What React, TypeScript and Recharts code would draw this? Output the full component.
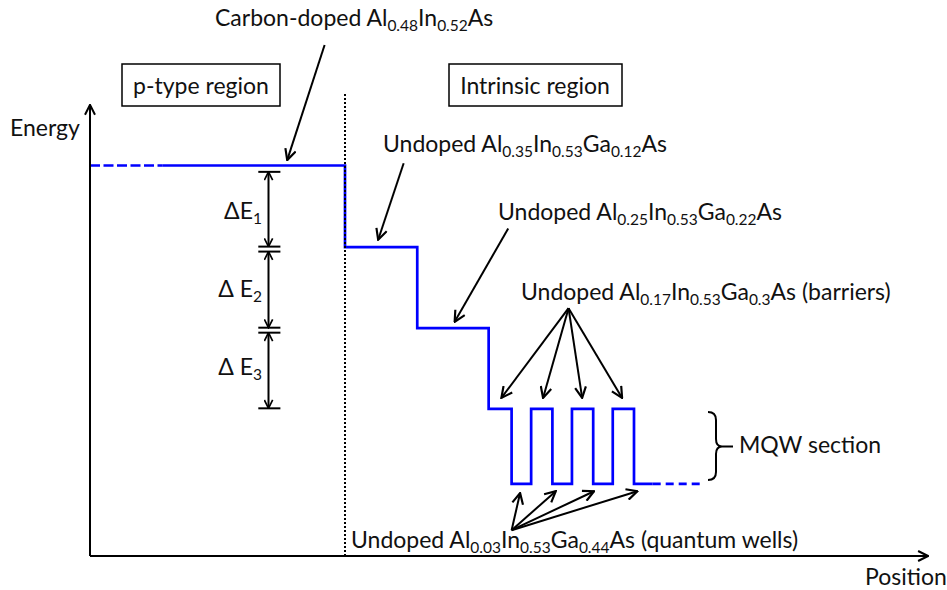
import React from 'react';
import { LineChart, Line, XAxis, YAxis, ReferenceLine } from 'recharts';

const W = 947;
const H = 590;
const FONT = 'Lato, "Open Sans", sans-serif';
const MAIN_SIZE = 23;
const SUB_SIZE = 15.5;
const SUB_DY = 5;
const BLUE = '#0000FF';

// Conduction-band profile (position in a.u., energy in a.u.)
const bandPositions = [8.5, 30, 30, 38.5, 38.5, 46.9, 46.9, 49.6, 49.6, 51.9, 51.9, 54.4, 54.4, 56.7, 56.7, 59.2, 59.2, 61.5, 61.5, 64.0, 64.0, 66.2];
const bandEnergies = [86.2, 86.2, 68.2, 68.2, 50.3, 50.3, 32.5, 32.5, 15.9, 15.9, 32.5, 32.5, 15.9, 15.9, 32.5, 32.5, 15.9, 15.9, 32.5, 32.5, 15.9, 15.9];
const leftDashPositions = [0, 8.5];
const leftDashEnergies = [86.2, 86.2];
const rightDashPositions = [66.2, 72.0];
const rightDashEnergies = [15.9, 15.9];

// Energy-step markers (ΔE1..ΔE3)
const deltaX = 21.0;
const deltaCapLeft = 19.8;
const deltaCapRight = 22.4;
const deltaTops = [84.8, 67.2, 49.3];
const deltaBottoms = [68.3, 50.4, 32.6];
const deltaNames = ['ΔE', 'Δ E', 'Δ E'];
const deltaSubs = ['1', '2', '3'];

// Region boundary
const junctionX = 30;

// Callout arrows: [fromX, fromE, toX, toE]
const calloutArrows = [
  [27.6, 112.8, 23.2, 87.4],
  [36.9, 86.7, 33.9, 69.8],
  [49.2, 72.3, 42.9, 51.7],
];
const barrierOrigin = [56.3, 54.7];
const barrierTipsX = [48.4, 53.3, 57.9, 62.6];
const barrierTipE = 34.9;
const wellOrigin = [49.6, 5.7];
const wellTipsX = [50.6, 54.8, 59.3, 64.4];
const wellTipsE = [13.9, 14.3, 14.3, 14.3];

// Labels
const carbonLabel = ['Carbon-doped Al', '_0.48', 'In', '_0.52', 'As'];
const layer1Label = ['Undoped Al', '_0.35', 'In', '_0.53', 'Ga', '_0.12', 'As'];
const layer2Label = ['Undoped Al', '_0.25', 'In', '_0.53', 'Ga', '_0.22', 'As'];
const barrierLabel = ['Undoped Al', '_0.17', 'In', '_0.53', 'Ga', '_0.3', 'As (barriers)'];
const wellLabel = ['Undoped Al', '_0.03', 'In', '_0.53', 'Ga', '_0.44', 'As (quantum wells)'];

const toPts = (xs: number[], es: number[]) => xs.map((x, i) => ({ x, e: es[i] }));

function Chem({ x, y, parts, anchor = 'start' }: { x: number; y: number; parts: string[]; anchor?: string }) {
  let inSub = false;
  return (
    <text x={x} y={y} textAnchor={anchor as any} fontFamily={FONT} fontSize={MAIN_SIZE} fill="#111">
      {parts.map((p, i) => {
        const sub = p.startsWith('_');
        const t = sub ? p.slice(1) : p;
        let dy = 0;
        if (sub && !inSub) dy = SUB_DY;
        if (!sub && inSub) dy = -SUB_DY;
        inSub = sub;
        return (
          <tspan key={i} dy={dy} fontSize={sub ? SUB_SIZE : MAIN_SIZE}>
            {t}
          </tspan>
        );
      })}
    </text>
  );
}

const arrowShape = (markerEnd?: string, markerStart?: string, width = 2) => (p: any) => (
  <line
    x1={p.x1}
    y1={p.y1}
    x2={p.x2}
    y2={p.y2}
    stroke="#000"
    strokeWidth={width}
    markerEnd={markerEnd}
    markerStart={markerStart}
  />
);

export default function App() {
  const segs: React.ReactNode[] = [];
  let k = 0;
  const seg = (x1: number, y1: number, x2: number, y2: number, shape: any) =>
    segs.push(
      <ReferenceLine
        key={`s${k++}`}
        segment={[{ x: x1, y: y1 }, { x: x2, y: y2 }]}
        ifOverflow="visible"
        stroke="#000"
        shape={shape}
      />
    );

  // axes with arrows
  seg(0, 0, 0, 99.6, arrowShape('url(#axisHead)'));
  seg(0, 0, 98.6, 0, arrowShape('url(#axisHead)'));

  // callouts
  calloutArrows.forEach(([a, b, c, d]) => seg(a, b, c, d, arrowShape('url(#head)')));
  barrierTipsX.forEach((tx) => seg(barrierOrigin[0], barrierOrigin[1], tx, barrierTipE, arrowShape('url(#head)')));
  wellTipsX.forEach((tx, i) => seg(wellOrigin[0], wellOrigin[1], tx, wellTipsE[i], arrowShape('url(#head)')));

  // delta E markers
  deltaTops.forEach((t, i) => {
    seg(deltaX, t, deltaX, deltaBottoms[i], arrowShape('url(#smallHead)', 'url(#smallHead)'));
    seg(deltaCapLeft, t, deltaCapRight, t, arrowShape());
    seg(deltaCapLeft, deltaBottoms[i], deltaCapRight, deltaBottoms[i], arrowShape());
  });

  return (
    <div style={{ position: 'absolute', left: 0, top: 0, width: W, height: H, background: '#fff' }}>
      <LineChart width={W} height={H} margin={{ top: 103, right: 7, bottom: 34, left: 90 }}>
        <defs>
          <marker id="head" viewBox="0 0 12 12" refX="11" refY="6" markerWidth="13" markerHeight="13" markerUnits="userSpaceOnUse" orient="auto-start-reverse">
            <path d="M1,1 L11,6 L1,11" fill="none" stroke="#000" strokeWidth="2" />
          </marker>
          <marker id="smallHead" viewBox="0 0 12 12" refX="11" refY="6" markerWidth="10" markerHeight="10" markerUnits="userSpaceOnUse" orient="auto-start-reverse">
            <path d="M1,1 L11,6 L1,11" fill="none" stroke="#000" strokeWidth="2" />
          </marker>
          <marker id="axisHead" viewBox="0 0 12 12" refX="11" refY="6" markerWidth="12" markerHeight="12" markerUnits="userSpaceOnUse" orient="auto-start-reverse">
            <path d="M1,1 L11,6 L1,11" fill="none" stroke="#000" strokeWidth="2" />
          </marker>
        </defs>
        <XAxis type="number" dataKey="x" domain={[0, 100]} allowDataOverflow hide />
        <YAxis type="number" dataKey="e" domain={[0, 100]} allowDataOverflow hide />
        <Line data={toPts(leftDashPositions, leftDashEnergies)} dataKey="e" stroke={BLUE} strokeWidth={2.7} strokeDasharray="10 3.5" dot={false} isAnimationActive={false} />
        <Line data={toPts(bandPositions, bandEnergies)} dataKey="e" stroke={BLUE} strokeWidth={2.7} dot={false} isAnimationActive={false} />
        <Line data={toPts(rightDashPositions, rightDashEnergies)} dataKey="e" stroke={BLUE} strokeWidth={2.7} strokeDasharray="8 5" dot={false} isAnimationActive={false} />
        <ReferenceLine
          segment={[{ x: junctionX, y: 0 }, { x: junctionX, y: 102.2 }]}
          ifOverflow="visible"
          stroke="#000"
          strokeWidth={2}
          strokeDasharray="2 2"
        />
        {segs}

        {/* region boxes */}
        <rect x={122} y={64} width={158} height={42} fill="none" stroke="#000" strokeWidth={1.5} />
        <text x={201} y={94} textAnchor="middle" fontFamily={FONT} fontSize={MAIN_SIZE} fill="#111">p-type region</text>
        <rect x={449} y={64} width={173} height={42} fill="none" stroke="#000" strokeWidth={1.5} />
        <text x={535} y={94} textAnchor="middle" fontFamily={FONT} fontSize={MAIN_SIZE} fill="#111">Intrinsic region</text>

        {/* axis titles */}
        <text x={10} y={136} fontFamily={FONT} fontSize={MAIN_SIZE} fill="#111">Energy</text>
        <text x={865} y={585} fontFamily={FONT} fontSize={MAIN_SIZE} fill="#111">Position</text>

        {/* layer labels */}
        <Chem x={215} y={26} parts={carbonLabel} />
        <Chem x={383} y={152} parts={layer1Label} />
        <Chem x={498} y={220} parts={layer2Label} />
        <Chem x={521} y={300} parts={barrierLabel} />
        <Chem x={351} y={548} parts={wellLabel} />

        {/* delta E labels */}
        {deltaNames.map((n, i) => (
          <Chem key={n + i} x={262} y={[219, 297, 375][i]} parts={[n, '_' + deltaSubs[i]]} anchor="end" />
        ))}

        {/* MQW brace */}
        <path
          d="M708,412 Q716,412 716,420 L716,439 Q716,446.5 722,446.5 L733,446.5 M722,446.5 Q716,446.5 716,454 L716,472 Q716,480 708,480"
          fill="none"
          stroke="#000"
          strokeWidth={2}
        />
        <text x={739} y={453} fontFamily={FONT} fontSize={MAIN_SIZE} fill="#111">MQW section</text>
      </LineChart>
    </div>
  );
}
